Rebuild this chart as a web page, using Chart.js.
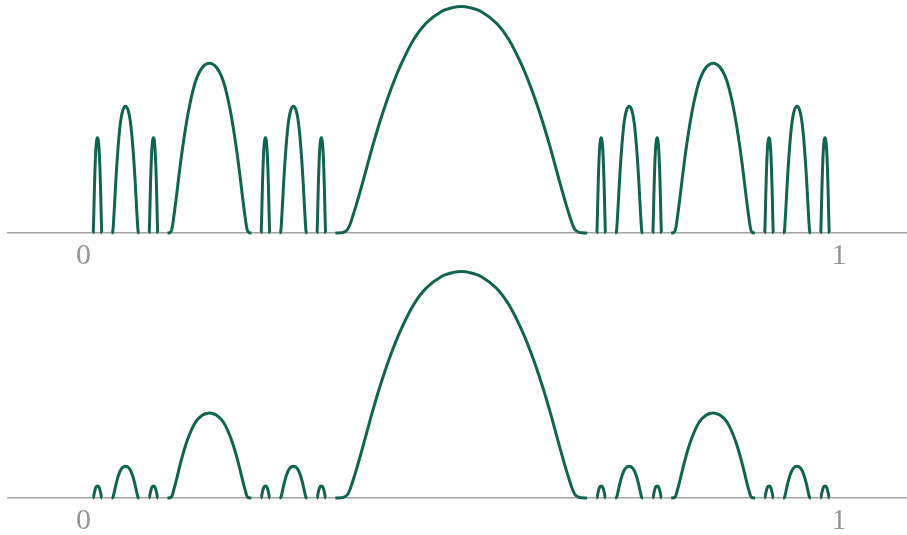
<!DOCTYPE html>
<html>
<head>
<meta charset="utf-8">
<script src="https://cdn.jsdelivr.net/npm/chart.js@4.4.1/dist/chart.umd.min.js"></script>
<style>
  html, body { margin: 0; padding: 0; background: #ffffff; }
  body { width: 907px; height: 535px; position: relative; overflow: hidden; }
  canvas { position: absolute; left: 0; }
</style>
</head>
<body>
<canvas id="topChart" width="907" height="267" style="top:0px"></canvas>
<canvas id="bottomChart" width="907" height="270" style="top:265px"></canvas>
<script>
// Normalised bump profile read from the large central bump (position within interval, relative height)
const profileT = [0, 0.03, 0.05, 0.07, 0.09, 0.11, 0.13, 0.15, 0.18, 0.22, 0.26, 0.31, 0.36, 0.42, 0.47, 0.5,
                  0.53, 0.58, 0.64, 0.69, 0.74, 0.78, 0.82, 0.85, 0.87, 0.89, 0.91, 0.93, 0.95, 0.97, 1];
const profileV = [0, 0.002, 0.018, 0.077, 0.15, 0.229, 0.311, 0.391, 0.502, 0.632, 0.742, 0.852, 0.926, 0.977, 0.996, 1,
                  0.996, 0.977, 0.926, 0.852, 0.742, 0.632, 0.502, 0.391, 0.311, 0.229, 0.15, 0.077, 0.018, 0.002, 0];

// Bump intervals (start, width) on the 0..1 axis
const bumpStarts = [0.0123, 0.0370, 0.0864, 0.1111, 0.2346, 0.2593, 0.3086, 0.3333,
                    0.6790, 0.7037, 0.7531, 0.7778, 0.9012, 0.9259, 0.9753];
const bumpWidths = [0.0123, 0.0370, 0.0123, 0.1111, 0.0123, 0.0370, 0.0123, 0.3333,
                    0.0123, 0.0370, 0.0123, 0.1111, 0.0123, 0.0370, 0.0123];
// Peak heights of each bump (top panel and bottom panel)
const topHeights    = [0.42, 0.56, 0.42, 0.75, 0.42, 0.56, 0.42, 1,
                       0.42, 0.56, 0.42, 0.75, 0.42, 0.56, 0.42];
const bottomHeights = [0.053, 0.14, 0.053, 0.375, 0.053, 0.14, 0.053, 1,
                       0.053, 0.14, 0.053, 0.375, 0.053, 0.14, 0.053];

const tickValues = [0, 1];
const tickLabels = ['0', '1'];

function buildPoints(heights) {
  const pts = [];
  for (let i = 0; i < bumpStarts.length; i++) {
    const s = bumpStarts[i], w = bumpWidths[i], h = heights[i];
    for (let j = 0; j < profileT.length; j++) {
      pts.push({ x: s + profileT[j] * w, y: profileV[j] * h });
    }
    pts.push({ x: s + w + 0.0001, y: null });
  }
  return pts;
}

const LINE = '#126450';
const GREY = '#a3a3a3';
const BASE = 233; // baseline pixel within each canvas

function makeChart(id, heights, canvasH) {
  const ctx = document.getElementById(id);
  return new Chart(ctx, {
    type: 'line',
    data: {
      datasets: [{
        data: buildPoints(heights),
        borderColor: LINE,
        borderWidth: 3,
        pointRadius: 0,
        fill: false,
        spanGaps: false,
        tension: 0.35,
        clip: false
      }]
    },
    options: {
      responsive: false,
      animation: false,
      devicePixelRatio: 1,
      layout: { padding: { left: 8, right: 0, top: 0, bottom: 0 } },
      plugins: { legend: { display: false }, tooltip: { enabled: false } },
      scales: {
        x: {
          type: 'linear',
          min: -0.1,
          max: 1.09,
          grid: { display: false, drawTicks: false },
          border: { display: true, color: GREY, width: 1.5 },
          afterBuildTicks: (scale) => { scale.ticks = tickValues.map(v => ({ value: v })); },
          afterFit: (scale) => { scale.height = canvasH - BASE; },
          ticks: {
            autoSkip: false,
            maxRotation: 0,
            padding: 5,
            color: '#959595',
            font: { family: '"Liberation Serif", "DejaVu Serif", serif', size: 30 },
            callback: (v) => { const k = tickValues.indexOf(v); return k >= 0 ? tickLabels[k] : ''; }
          }
        },
        y: {
          display: false,
          min: 0,
          max: BASE / 226.5
        }
      }
    }
  });
}

makeChart('topChart', topHeights, 267);
makeChart('bottomChart', bottomHeights, 270);
</script>
</body>
</html>
